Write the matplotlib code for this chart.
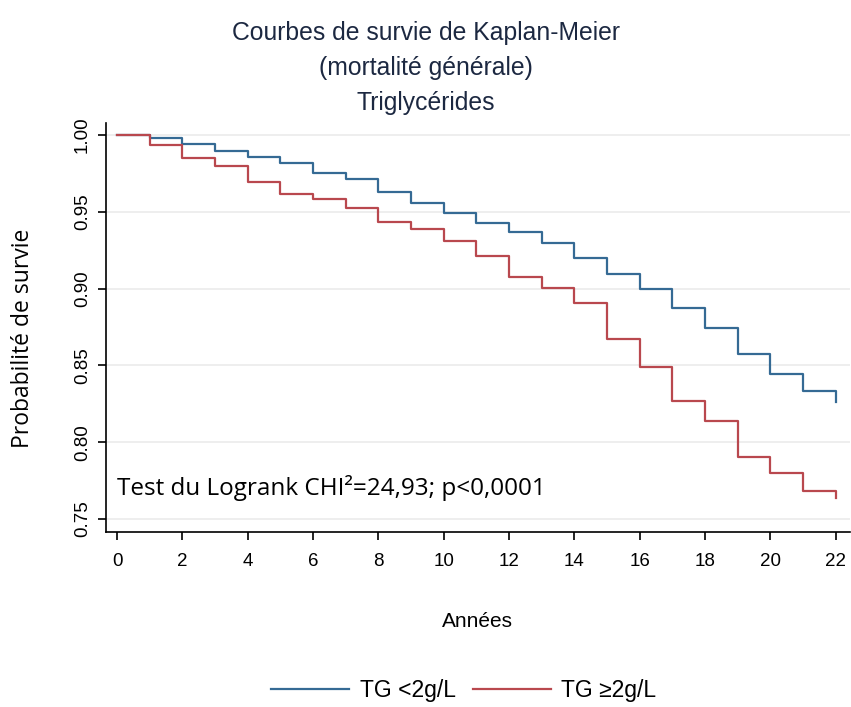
import matplotlib
matplotlib.use("Agg")
import matplotlib.pyplot as plt

# Kaplan-Meier step levels (one value per year interval, last = value at 22)
years = list(range(0, 23)) + [22]
surv_low = [1.000, 0.9979, 0.9939, 0.9898, 0.9855, 0.9820, 0.9755, 0.9714, 0.9631, 0.9555,
            0.9494, 0.9427, 0.9368, 0.9297, 0.9197, 0.9095, 0.8995, 0.8876, 0.8743, 0.8574,
            0.8446, 0.8330, 0.8330, 0.8264]
surv_high = [1.000, 0.9935, 0.9848, 0.9800, 0.9696, 0.9614, 0.9585, 0.9525, 0.9432, 0.9390,
             0.9310, 0.9212, 0.9077, 0.9006, 0.8906, 0.8674, 0.8488, 0.8268, 0.8138, 0.7906,
             0.7801, 0.7684, 0.7684, 0.7637]
labels = ["TG <2g/L", "TG \u22652g/L"]
xticks = list(range(0, 23, 2))
yticks = [0.75, 0.80, 0.85, 0.90, 0.95, 1.00]

blue = "#356a94"
red = "#b9484e"
title_col = "#1c2841"
sans = ["Liberation Sans", "DejaVu Sans"]

fig = plt.figure(figsize=(8.51, 7.07), dpi=100)
ax = fig.add_axes([0.1246, 0.2475, 0.874, 0.5785])

ax.plot(years, surv_low, drawstyle="steps-post", color=blue, lw=1.6, label=labels[0])
ax.plot(years, surv_high, drawstyle="steps-post", color=red, lw=1.6, label=labels[1])

ax.set_xlim(-0.34, 22.43)
ax.set_ylim(0.7415, 1.0078)
ax.set_xticks(xticks)
ax.set_yticks(yticks)
ax.set_yticklabels(["%.2f" % v for v in yticks], rotation=90, va="center")
ax.grid(axis="y", color="#ebebeb", lw=1.2)
ax.set_axisbelow(True)
for s in ["top", "right"]:
    ax.spines[s].set_visible(False)
for s in ["left", "bottom"]:
    ax.spines[s].set_linewidth(1.2)
ax.tick_params(direction="out", length=6, width=1.2, labelsize=13.5)
ax.tick_params(axis="x", pad=9)
ax.tick_params(axis="y", pad=5)
for lab in ax.get_xticklabels() + ax.get_yticklabels():
    lab.set_family(sans)

ax.set_xlabel("Ann\u00e9es", family=sans, fontsize=15, labelpad=30)
ax.set_ylabel("Probabilit\u00e9 de survie", family=["Open Sans", "DejaVu Sans"], fontsize=16.5)
ax.yaxis.set_label_coords(-0.096, 0.474)

ax.text(0.0, 0.7655, "Test du Logrank CHI\u00b2=24,93; p<0,0001",
        family=["Open Sans", "DejaVu Sans"], fontsize=17.5, color="black", va="baseline")

fig.text(0.5, 0.971, "Courbes de survie de Kaplan-Meier\n(mortalit\u00e9 g\u00e9n\u00e9rale)\nTriglyc\u00e9rides",
         ha="center", va="top", family=sans, fontsize=17.8, color=title_col, linespacing=1.58)

fig.legend(loc="center", bbox_to_anchor=(0.545, 0.023), ncol=2, frameon=False,
           prop={"family": sans, "size": 16.5}, handlelength=3.4, columnspacing=0.75, handletextpad=0.45)

fig.savefig("out.png", dpi=100)
